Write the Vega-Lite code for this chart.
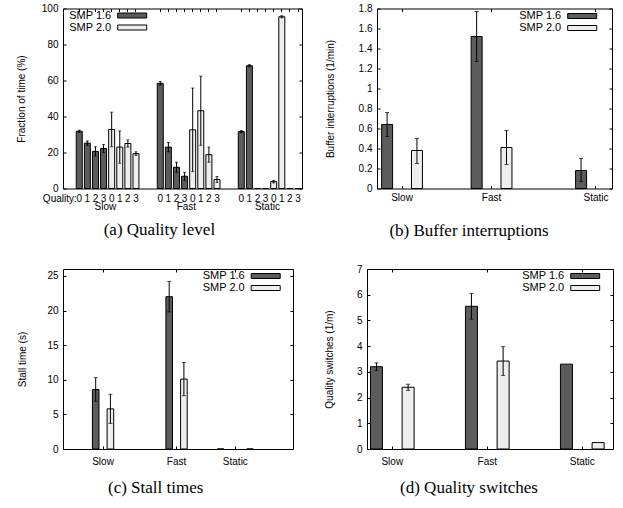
{
  "$schema": "https://vega.github.io/schema/vega-lite/v6.json",
  "padding": {"left": 15, "top": 2.5, "right": 0, "bottom": 0},
  "background": "white",
  "config": {
    "view": {"stroke": "black", "strokeWidth": 1},
    "font": "Liberation Sans",
    "axis": {"labelFont": "Liberation Sans", "labelFontSize": 10, "labelColor": "black", "titleFont": "Liberation Sans", "titleFontSize": 10, "titleFontWeight": "normal", "titleColor": "black", "tickColor": "black", "tickWidth": 1, "domain": false, "grid": false, "labelFlush": false, "labelAngle": 0},
    "legend": {"title": null, "orient": "none", "symbolType": "M-2.9,-0.5H2.9V0.5H-2.9Z", "symbolSize": 100, "symbolStrokeColor": "black", "symbolStrokeWidth": 1, "labelFont": "Liberation Sans", "labelFontSize": 11, "labelColor": "black", "labelAlign": "right", "labelOffset": -26.5, "symbolOffset": 57.7, "rowPadding": 0, "padding": 0},
    "title": {"font": "Liberation Serif", "fontSize": 17, "fontWeight": "normal", "color": "black", "orient": "bottom", "frame": "bounds", "anchor": "middle", "offset": 14}
  },
  "datasets": {
    "qa": [
      {"group": "Slow", "version": "SMP 1.6", "quality": "0", "slot": "Slow/SMP 1.6/0", "value": 31.8, "lo": 31.2, "hi": 32.4},
      {"group": "Slow", "version": "SMP 1.6", "quality": "1", "slot": "Slow/SMP 1.6/1", "value": 25.2, "lo": 24.0, "hi": 26.4},
      {"group": "Slow", "version": "SMP 1.6", "quality": "2", "slot": "Slow/SMP 1.6/2", "value": 20.6, "lo": 18.0, "hi": 23.2},
      {"group": "Slow", "version": "SMP 1.6", "quality": "3", "slot": "Slow/SMP 1.6/3", "value": 22.2, "lo": 20.0, "hi": 24.4},
      {"group": "Slow", "version": "SMP 2.0", "quality": "0", "slot": "Slow/SMP 2.0/0", "value": 32.8, "lo": 23.2, "hi": 42.4},
      {"group": "Slow", "version": "SMP 2.0", "quality": "1", "slot": "Slow/SMP 2.0/1", "value": 23.0, "lo": 14.0, "hi": 32.0},
      {"group": "Slow", "version": "SMP 2.0", "quality": "2", "slot": "Slow/SMP 2.0/2", "value": 25.0, "lo": 23.0, "hi": 27.0},
      {"group": "Slow", "version": "SMP 2.0", "quality": "3", "slot": "Slow/SMP 2.0/3", "value": 19.4, "lo": 18.4, "hi": 20.4},
      {"group": "Fast", "version": "SMP 1.6", "quality": "0", "slot": "Fast/SMP 1.6/0", "value": 58.4, "lo": 57.4, "hi": 59.4},
      {"group": "Fast", "version": "SMP 1.6", "quality": "1", "slot": "Fast/SMP 1.6/1", "value": 23.0, "lo": 20.4, "hi": 25.6},
      {"group": "Fast", "version": "SMP 1.6", "quality": "2", "slot": "Fast/SMP 1.6/2", "value": 11.8, "lo": 9.0, "hi": 14.6},
      {"group": "Fast", "version": "SMP 1.6", "quality": "3", "slot": "Fast/SMP 1.6/3", "value": 6.8, "lo": 4.6, "hi": 9.0},
      {"group": "Fast", "version": "SMP 2.0", "quality": "0", "slot": "Fast/SMP 2.0/0", "value": 32.6, "lo": 9.4, "hi": 55.8},
      {"group": "Fast", "version": "SMP 2.0", "quality": "1", "slot": "Fast/SMP 2.0/1", "value": 43.2, "lo": 24.0, "hi": 62.4},
      {"group": "Fast", "version": "SMP 2.0", "quality": "2", "slot": "Fast/SMP 2.0/2", "value": 18.8, "lo": 14.6, "hi": 23.0},
      {"group": "Fast", "version": "SMP 2.0", "quality": "3", "slot": "Fast/SMP 2.0/3", "value": 5.0, "lo": 3.4, "hi": 6.6},
      {"group": "Static", "version": "SMP 1.6", "quality": "0", "slot": "Static/SMP 1.6/0", "value": 31.6, "lo": 31.0, "hi": 32.2},
      {"group": "Static", "version": "SMP 1.6", "quality": "1", "slot": "Static/SMP 1.6/1", "value": 68.2, "lo": 67.6, "hi": 68.8},
      {"group": "Static", "version": "SMP 1.6", "quality": "2", "slot": "Static/SMP 1.6/2", "value": 0, "lo": null, "hi": null},
      {"group": "Static", "version": "SMP 1.6", "quality": "3", "slot": "Static/SMP 1.6/3", "value": 0, "lo": null, "hi": null},
      {"group": "Static", "version": "SMP 2.0", "quality": "0", "slot": "Static/SMP 2.0/0", "value": 3.8, "lo": 3.1, "hi": 4.5},
      {"group": "Static", "version": "SMP 2.0", "quality": "1", "slot": "Static/SMP 2.0/1", "value": 95.4, "lo": 94.8, "hi": 96.0},
      {"group": "Static", "version": "SMP 2.0", "quality": "2", "slot": "Static/SMP 2.0/2", "value": 0, "lo": null, "hi": null},
      {"group": "Static", "version": "SMP 2.0", "quality": "3", "slot": "Static/SMP 2.0/3", "value": 0, "lo": null, "hi": null}
    ],
    "qb": [
      {"group": "Slow", "version": "SMP 1.6", "slot": "Slow/SMP 1.6", "value": 0.64, "lo": 0.52, "hi": 0.76},
      {"group": "Slow", "version": "SMP 2.0", "slot": "Slow/SMP 2.0", "value": 0.38, "lo": 0.25, "hi": 0.5},
      {"group": "Fast", "version": "SMP 1.6", "slot": "Fast/SMP 1.6", "value": 1.52, "lo": 1.27, "hi": 1.77},
      {"group": "Fast", "version": "SMP 2.0", "slot": "Fast/SMP 2.0", "value": 0.41, "lo": 0.24, "hi": 0.58},
      {"group": "Static", "version": "SMP 1.6", "slot": "Static/SMP 1.6", "value": 0.18, "lo": 0.07, "hi": 0.3}
    ],
    "qc": [
      {"group": "Slow", "version": "SMP 1.6", "slot": "Slow/SMP 1.6", "value": 8.6, "lo": 6.9, "hi": 10.3},
      {"group": "Slow", "version": "SMP 2.0", "slot": "Slow/SMP 2.0", "value": 5.8, "lo": 3.7, "hi": 7.9},
      {"group": "Fast", "version": "SMP 1.6", "slot": "Fast/SMP 1.6", "value": 22.0, "lo": 19.8, "hi": 24.2},
      {"group": "Fast", "version": "SMP 2.0", "slot": "Fast/SMP 2.0", "value": 10.1, "lo": 7.7, "hi": 12.5},
      {"group": "Static", "version": "SMP 1.6", "slot": "Static/SMP 1.6", "value": 0, "lo": null, "hi": null},
      {"group": "Static", "version": "SMP 2.0", "slot": "Static/SMP 2.0", "value": 0, "lo": null, "hi": null}
    ],
    "qd": [
      {"group": "Slow", "version": "SMP 1.6", "slot": "Slow/SMP 1.6", "value": 3.2, "lo": 3.05, "hi": 3.35},
      {"group": "Slow", "version": "SMP 2.0", "slot": "Slow/SMP 2.0", "value": 2.4, "lo": 2.28, "hi": 2.52},
      {"group": "Fast", "version": "SMP 1.6", "slot": "Fast/SMP 1.6", "value": 5.55, "lo": 5.05, "hi": 6.05},
      {"group": "Fast", "version": "SMP 2.0", "slot": "Fast/SMP 2.0", "value": 3.42, "lo": 2.86, "hi": 3.98},
      {"group": "Static", "version": "SMP 1.6", "slot": "Static/SMP 1.6", "value": 3.3, "lo": null, "hi": null},
      {"group": "Static", "version": "SMP 2.0", "slot": "Static/SMP 2.0", "value": 0.25, "lo": null, "hi": null}
    ]
  },
  "resolve": {"scale": {"fill": "independent"}, "legend": {"fill": "independent"}},
  "spacing": 23.5,
  "vconcat": [
    {
      "spacing": 22,
      "resolve": {"scale": {"fill": "independent"}, "legend": {"fill": "independent"}},
      "hconcat": [
        {
          "width": 239, "height": 180,
          "title": {"text": "(a) Quality level", "offset": 10.5},
          "data": {"name": "qa"},
          "resolve": {"axis": {"x": "independent", "y": "independent"}},
          "layer": [
            {
              "mark": {"type": "bar", "stroke": "black", "strokeWidth": 1},
              "encoding": {
                "x": {"field": "slot", "type": "nominal", "scale": {"domain": ["Slow/SMP 1.6/0", "Slow/SMP 1.6/1", "Slow/SMP 1.6/2", "Slow/SMP 1.6/3", "Slow/SMP 2.0/0", "Slow/SMP 2.0/1", "Slow/SMP 2.0/2", "Slow/SMP 2.0/3", "gap 1", "gap 2", "Fast/SMP 1.6/0", "Fast/SMP 1.6/1", "Fast/SMP 1.6/2", "Fast/SMP 1.6/3", "Fast/SMP 2.0/0", "Fast/SMP 2.0/1", "Fast/SMP 2.0/2", "Fast/SMP 2.0/3", "gap 3", "gap 4", "Static/SMP 1.6/0", "Static/SMP 1.6/1", "Static/SMP 1.6/2", "Static/SMP 1.6/3", "Static/SMP 2.0/0", "Static/SMP 2.0/1", "Static/SMP 2.0/2", "Static/SMP 2.0/3"], "paddingInner": 0.26, "paddingOuter": 0.88, "align": 0.93}, "axis": {"title": null, "values": ["Slow/SMP 1.6/3", "Fast/SMP 1.6/3", "Static/SMP 1.6/3"], "labelExpr": "split(datum.value, '/')[0]", "labelOffset": 1.8, "ticks": false, "labelPadding": 13, "labelBaseline": "top"}},
                "y": {"field": "value", "type": "quantitative", "scale": {"domain": [0, 100]}, "axis": {"title": "Fraction of time (%)", "values": [0, 20, 40, 60, 80, 100], "tickSize": -3, "labelPadding": 8, "titlePadding": 15}},
                "fill": {"field": "version", "type": "nominal", "scale": {"domain": ["SMP 1.6", "SMP 2.0"], "range": ["#5c5c5c", "#eeeeee"]}, "legend": {"legendX": 6, "legendY": 1.5}}
              }
            },
            {
              "transform": [{"filter": "datum.lo != null"}],
              "mark": {"type": "rule", "color": "black", "strokeWidth": 1},
              "encoding": {
                "x": {"field": "slot", "type": "nominal", "axis": {"orient": "top", "title": null, "labels": false, "tickSize": -3, "values": ["Slow/SMP 1.6/0", "Slow/SMP 1.6/1", "Slow/SMP 1.6/2", "Slow/SMP 1.6/3", "Slow/SMP 2.0/0", "Slow/SMP 2.0/1", "Slow/SMP 2.0/2", "Slow/SMP 2.0/3", "Fast/SMP 1.6/0", "Fast/SMP 1.6/1", "Fast/SMP 1.6/2", "Fast/SMP 1.6/3", "Fast/SMP 2.0/0", "Fast/SMP 2.0/1", "Fast/SMP 2.0/2", "Fast/SMP 2.0/3", "Static/SMP 1.6/0", "Static/SMP 1.6/1", "Static/SMP 1.6/2", "Static/SMP 1.6/3", "Static/SMP 2.0/0", "Static/SMP 2.0/1", "Static/SMP 2.0/2", "Static/SMP 2.0/3"]}},
                "y": {"field": "lo", "type": "quantitative", "axis": {"orient": "right", "title": null, "labels": false, "values": [0, 20, 40, 60, 80, 100], "tickSize": -3}},
                "y2": {"field": "hi"}
              }
            },
            {
              "transform": [{"filter": "datum.lo != null"}],
              "mark": {"type": "tick", "color": "black", "thickness": 1, "size": 3},
              "encoding": {
                "x": {"field": "slot", "type": "nominal", "axis": null},
                "y": {"field": "lo", "type": "quantitative", "axis": null}
              }
            },
            {
              "transform": [{"filter": "datum.hi != null"}],
              "mark": {"type": "tick", "color": "black", "thickness": 1, "size": 3},
              "encoding": {
                "x": {"field": "slot", "type": "nominal", "axis": null},
                "y": {"field": "hi", "type": "quantitative", "axis": null}
              }
            },
            {
              "mark": {"type": "text", "font": "Liberation Sans", "fontSize": 10, "color": "black", "baseline": "top", "dy": 5.5},
              "encoding": {
                "x": {"field": "slot", "type": "nominal", "axis": null},
                "y": {"datum": 0, "type": "quantitative", "axis": null},
                "text": {"field": "quality"}
              }
            },
            {
              "data": {"values": [{"label": "Quality:"}]},
              "mark": {"type": "text", "font": "Liberation Sans", "fontSize": 10, "color": "black", "baseline": "top", "dy": 5.5, "align": "right", "dx": -2.5},
              "encoding": {
                "x": {"datum": "Slow/SMP 1.6/0", "type": "nominal", "axis": null},
                "y": {"datum": 0, "type": "quantitative", "axis": null},
                "text": {"field": "label"}
              }
            }
          ]
        },
        {
          "width": 235, "height": 180,
          "title": {"text": "(b) Buffer interruptions", "offset": 20.5},
          "data": {"name": "qb"},
          "resolve": {"axis": {"x": "independent", "y": "independent"}},
          "layer": [
            {
              "mark": {"type": "bar", "stroke": "black", "strokeWidth": 1},
              "encoding": {
                "x": {"field": "slot", "type": "nominal", "scale": {"domain": ["Slow/SMP 1.6", "Slow", "Slow/SMP 2.0", "gap 1", "gap 2", "gap 3", "Fast/SMP 1.6", "Fast", "Fast/SMP 2.0", "gap 4", "gap 5", "gap 6", "gap 7", "Static/SMP 1.6", "Static"], "paddingInner": 0.263, "paddingOuter": 0.507, "align": 0.305}, "axis": {"title": null, "values": ["Slow", "Fast", "Static"], "tickSize": -3, "labelPadding": 7, "labelBaseline": "top"}},
                "y": {"field": "value", "type": "quantitative", "scale": {"domain": [0, 1.8]}, "axis": {"title": "Buffer interruptions (1/min)", "values": [0, 0.2, 0.4, 0.6, 0.8, 1, 1.2, 1.4, 1.6, 1.8], "format": "~g", "tickSize": -3, "labelPadding": 8, "titlePadding": 22.5}},
                "fill": {"field": "version", "type": "nominal", "scale": {"domain": ["SMP 1.6", "SMP 2.0"], "range": ["#5c5c5c", "#eeeeee"]}, "legend": {"legendX": 142, "legendY": 2}}
              }
            },
            {
              "transform": [{"filter": "datum.lo != null"}],
              "mark": {"type": "rule", "color": "black", "strokeWidth": 1},
              "encoding": {
                "x": {"field": "slot", "type": "nominal", "axis": {"orient": "top", "title": null, "labels": false, "tickSize": -3, "values": ["Slow", "Fast", "Static"]}},
                "y": {"field": "lo", "type": "quantitative", "axis": {"orient": "right", "title": null, "labels": false, "values": [0, 0.2, 0.4, 0.6, 0.8, 1, 1.2, 1.4, 1.6, 1.8], "tickSize": -3}},
                "y2": {"field": "hi"}
              }
            },
            {
              "transform": [{"filter": "datum.lo != null"}],
              "mark": {"type": "tick", "color": "black", "thickness": 1, "size": 4},
              "encoding": {
                "x": {"field": "slot", "type": "nominal", "axis": null},
                "y": {"field": "lo", "type": "quantitative", "axis": null}
              }
            },
            {
              "transform": [{"filter": "datum.hi != null"}],
              "mark": {"type": "tick", "color": "black", "thickness": 1, "size": 4},
              "encoding": {
                "x": {"field": "slot", "type": "nominal", "axis": null},
                "y": {"field": "hi", "type": "quantitative", "axis": null}
              }
            }
          ]
        }
      ]
    },
    {
      "spacing": 29,
      "resolve": {"scale": {"fill": "independent"}, "legend": {"fill": "independent"}},
      "hconcat": [
        {
          "width": 230, "height": 180,
          "title": {"text": "(c) Stall times"},
          "data": {"name": "qc"},
          "resolve": {"axis": {"x": "independent", "y": "independent"}},
          "layer": [
            {
              "mark": {"type": "bar", "stroke": "black", "strokeWidth": 1},
              "encoding": {
                "x": {"field": "slot", "type": "nominal", "scale": {"domain": ["g0", "g1", "g2", "g3", "Slow/SMP 1.6", "Slow", "Slow/SMP 2.0", "g4", "g5", "g6", "g7", "g8", "g9", "g10", "Fast/SMP 1.6", "Fast", "Fast/SMP 2.0", "g11", "g12", "g13", "g14", "Static/SMP 1.6", "g15", "Static", "g16", "Static/SMP 2.0", "g17", "g18", "g19", "g20", "g21"], "paddingInner": 0.103, "paddingOuter": 0.197, "align": 0}, "axis": {"title": null, "values": ["Slow", "Fast", "Static"], "tickSize": -3, "labelPadding": 10, "labelBaseline": "top"}},
                "y": {"field": "value", "type": "quantitative", "scale": {"domain": [0, 25]}, "axis": {"title": "Stall time (s)", "values": [0, 5, 10, 15, 20, 25], "tickSize": -3, "labelPadding": 8, "titlePadding": 19}},
                "fill": {"field": "version", "type": "nominal", "scale": {"domain": ["SMP 1.6", "SMP 2.0"], "range": ["#5c5c5c", "#eeeeee"]}, "legend": {"legendX": 139.5, "legendY": 1.5}}
              }
            },
            {
              "transform": [{"filter": "datum.lo != null"}],
              "mark": {"type": "rule", "color": "black", "strokeWidth": 1},
              "encoding": {
                "x": {"field": "slot", "type": "nominal", "axis": {"orient": "top", "title": null, "labels": false, "tickSize": -3, "values": ["Slow", "Fast", "Static"]}},
                "y": {"field": "lo", "type": "quantitative", "axis": {"orient": "right", "title": null, "labels": false, "values": [0, 5, 10, 15, 20, 25], "tickSize": -3}},
                "y2": {"field": "hi"}
              }
            },
            {
              "transform": [{"filter": "datum.lo != null"}],
              "mark": {"type": "tick", "color": "black", "thickness": 1, "size": 4},
              "encoding": {
                "x": {"field": "slot", "type": "nominal", "axis": null},
                "y": {"field": "lo", "type": "quantitative", "axis": null}
              }
            },
            {
              "transform": [{"filter": "datum.hi != null"}],
              "mark": {"type": "tick", "color": "black", "thickness": 1, "size": 4},
              "encoding": {
                "x": {"field": "slot", "type": "nominal", "axis": null},
                "y": {"field": "hi", "type": "quantitative", "axis": null}
              }
            }
          ]
        },
        {
          "width": 246, "height": 180,
          "title": {"text": "(d) Quality switches"},
          "data": {"name": "qd"},
          "resolve": {"axis": {"x": "independent", "y": "independent"}},
          "layer": [
            {
              "mark": {"type": "bar", "stroke": "black", "strokeWidth": 1},
              "encoding": {
                "x": {"field": "slot", "type": "nominal", "scale": {"domain": ["Slow/SMP 1.6", "Slow", "Slow/SMP 2.0", "g1", "g2", "g3", "Fast/SMP 1.6", "Fast", "Fast/SMP 2.0", "g4", "g5", "g6", "Static/SMP 1.6", "Static", "Static/SMP 2.0"], "paddingInner": 0.242, "paddingOuter": 0.39, "align": 0.28}, "axis": {"title": null, "values": ["Slow", "Fast", "Static"], "tickSize": -3, "labelPadding": 10, "labelBaseline": "top"}},
                "y": {"field": "value", "type": "quantitative", "scale": {"domain": [0, 7]}, "axis": {"title": "Quality switches (1/m)", "values": [0, 1, 2, 3, 4, 5, 6, 7], "tickSize": -3, "labelPadding": 8, "titlePadding": 22}},
                "fill": {"field": "version", "type": "nominal", "scale": {"domain": ["SMP 1.6", "SMP 2.0"], "range": ["#5c5c5c", "#eeeeee"]}, "legend": {"legendX": 155, "legendY": 1.5}}
              }
            },
            {
              "transform": [{"filter": "datum.lo != null"}],
              "mark": {"type": "rule", "color": "black", "strokeWidth": 1},
              "encoding": {
                "x": {"field": "slot", "type": "nominal", "axis": {"orient": "top", "title": null, "labels": false, "tickSize": -3, "values": ["Slow", "Fast", "Static"]}},
                "y": {"field": "lo", "type": "quantitative", "axis": {"orient": "right", "title": null, "labels": false, "values": [0, 1, 2, 3, 4, 5, 6, 7], "tickSize": -3}},
                "y2": {"field": "hi"}
              }
            },
            {
              "transform": [{"filter": "datum.lo != null"}],
              "mark": {"type": "tick", "color": "black", "thickness": 1, "size": 4},
              "encoding": {
                "x": {"field": "slot", "type": "nominal", "axis": null},
                "y": {"field": "lo", "type": "quantitative", "axis": null}
              }
            },
            {
              "transform": [{"filter": "datum.hi != null"}],
              "mark": {"type": "tick", "color": "black", "thickness": 1, "size": 4},
              "encoding": {
                "x": {"field": "slot", "type": "nominal", "axis": null},
                "y": {"field": "hi", "type": "quantitative", "axis": null}
              }
            }
          ]
        }
      ]
    }
  ]
}
